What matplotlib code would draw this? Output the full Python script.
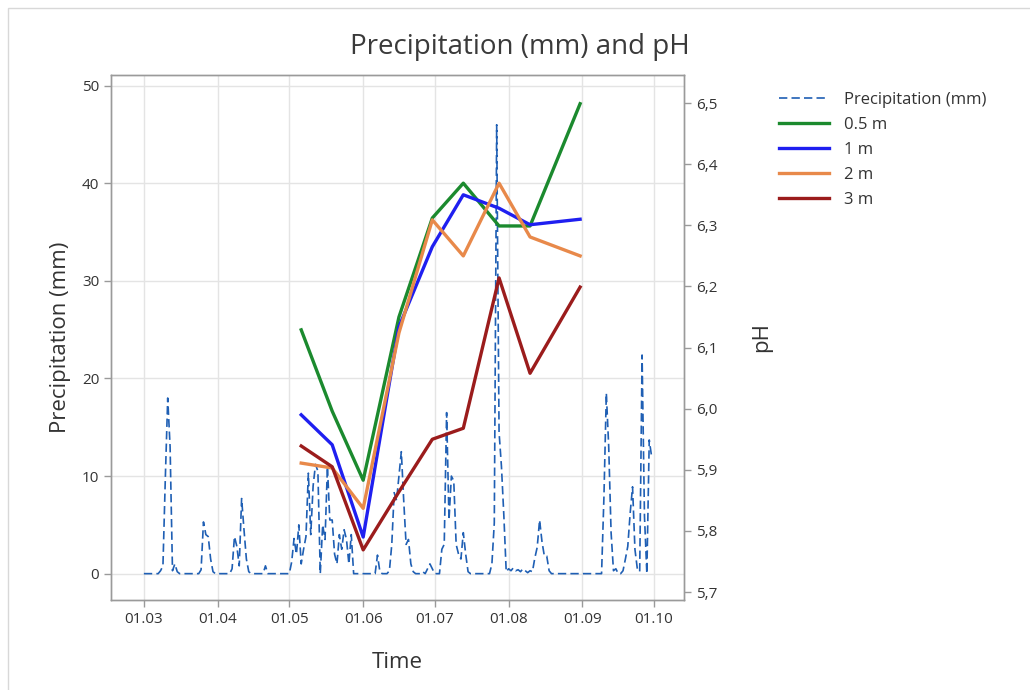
import matplotlib
matplotlib.use("Agg")
import matplotlib.pyplot as plt
import matplotlib.dates as mdates
from matplotlib.ticker import FuncFormatter, MultipleLocator
from matplotlib.patches import Rectangle
import numpy as np
import pandas as pd

plt.rcParams['font.family'] = ['Open Sans', 'DejaVu Sans']

# ---- Data ----
precip_start = "2021-03-01"
precip_mar = [0, 0, 0, 0, 0, 0, 0, 0.3, 0.8, 9.8, 18.0, 13.0, 0.3, 1.0, 0.2,
              0, 0, 0, 0, 0, 0, 0, 0, 0, 0.4, 5.3, 4.0, 3.8, 1.5, 0.2, 0]
precip_apr = [0, 0, 0, 0, 0, 0, 0.5, 3.8, 2.8, 0.8, 7.7, 4.5, 1.5, 0.2,
              0, 0, 0, 0, 0, 0, 0.8, 0, 0, 0, 0, 0, 0, 0, 0, 0]
precip_may = [0.0, 1.2, 3.6, 2.0, 5.0, 1.0, 2.5, 3.8, 10.3, 4.0, 9.0, 11.2, 10.5,
              0.0, 5.0, 3.5, 11.0, 5.5, 5.5, 2.0, 1.0, 4.0, 2.5, 4.5, 3.5, 1.0,
              4.0, 0, 0, 0, 0]
precip_jun = [0, 0, 0, 0, 0, 0, 1.9, 0.2, 0, 0, 0, 0.3, 3.0, 8.3, 7.5, 10.0,
              12.5, 7.5, 3.0, 3.5, 1.0, 0.2, 0, 0, 0, 0.2, 0, 0.5, 1.0, 0.5]
precip_jul = [0, 0, 0, 2.5, 3.0, 16.5, 5.5, 10.0, 9.5, 3.0, 2.0, 1.5, 4.2, 2.0,
              0.2, 0, 0, 0, 0, 0, 0, 0, 0, 0, 1.0, 5.2, 46.0, 14.5, 11.0, 6.0, 0.2]
precip_aug = [0.5, 0.3, 0.6, 0.3, 0.4, 0.2, 0.5, 0.3, 0.1, 0.3, 0.2, 1.6, 2.7,
              5.5, 3.3, 1.8, 1.8, 0.3, 0, 0, 0, 0, 0, 0, 0, 0, 0, 0, 0, 0, 0]
precip_sep = [0, 0, 0, 0, 0, 0, 0, 0, 0, 7.9, 18.5, 13.0, 4.2, 0.3, 0.5, 0, 0,
              0.3, 1.5, 2.8, 6.2, 8.9, 2.5, 0.5, 0.2, 22.4, 5.9, 0.0, 13.7, 12.0]

ph_dates = ["2021-05-06", "2021-05-19", "2021-06-01", "2021-06-16", "2021-06-30",
            "2021-07-13", "2021-07-28", "2021-08-10", "2021-08-31"]
ph_05m = [6.129, 5.996, 5.883, 6.150, 6.312, 6.369, 6.299, 6.299, 6.499]
ph_1m = [5.990, 5.941, 5.790, 6.134, 6.265, 6.350, 6.328, 6.301, 6.310]
ph_2m = [5.911, 5.903, 5.837, 6.124, 6.309, 6.250, 6.369, 6.281, 6.250]
ph_3m = [5.939, 5.905, 5.769, 5.864, 5.950, 5.968, 6.214, 6.058, 6.199]

series_labels = ["0.5 m", "1 m", "2 m", "3 m"]
series_colors = ["#1b8a2e", "#1f1ff0", "#e8894a", "#9b1c1c"]

precip = (precip_mar + precip_apr + precip_may + precip_jun +
          precip_jul + precip_aug + precip_sep)
precip_dates = pd.date_range(precip_start, periods=len(precip), freq="D")
ph_x = pd.to_datetime(ph_dates)

# ---- Figure ----
fig = plt.figure(figsize=(10.3, 6.9), dpi=100)
fig.patches.append(Rectangle((8/1030, -0.01), 1.0, 1 - 8/690 + 0.01,
                             transform=fig.transFigure, fill=False,
                             edgecolor="#d8d8d8", linewidth=1.0))
ax = fig.add_axes([111/1030, 1 - 600/690, (684 - 111)/1030, (600 - 75)/690])
ax2 = ax.twinx()

grid_c = "#e4e4e4"
spine_c = "#9a9a9a"
text_c = "#333333"

l0, = ax.plot(precip_dates, precip, color="#1f5fb4", lw=1.2,
              linestyle=(0, (5, 2.5)), label="Precipitation (mm)")
handles = [l0]
for vals, lab, col in zip([ph_05m, ph_1m, ph_2m, ph_3m], series_labels, series_colors):
    h, = ax2.plot(ph_x, vals, color=col, lw=2.4, label=lab)
    handles.append(h)

ax.set_xlim(pd.Timestamp("2021-02-15 05:00"), pd.Timestamp("2021-10-13 14:00"))
ax.set_ylim(-2.7, 51.1)
ax2.set_ylim(5.687, 6.546)

ax.xaxis.set_major_locator(mdates.MonthLocator(bymonthday=1))
ax.xaxis.set_major_formatter(mdates.DateFormatter("%d.%m"))
ax.yaxis.set_major_locator(MultipleLocator(10))
ax2.yaxis.set_major_locator(MultipleLocator(0.1))
ax2.yaxis.set_major_formatter(FuncFormatter(lambda v, p: f"{v:.1f}".replace(".", ",")))

ax.grid(True, color=grid_c, lw=1.0)
ax.set_axisbelow(True)

for a in (ax, ax2):
    for s in a.spines.values():
        s.set_color(spine_c)
        s.set_linewidth(1.0)
    a.tick_params(colors=spine_c, labelcolor=text_c, labelsize=11, length=5, width=1)

ax.set_xlabel("Time", fontsize=16, color=text_c, labelpad=18)
ax.set_ylabel("Precipitation (mm)", fontsize=16, color=text_c, labelpad=8)
ax2.set_ylabel("pH", fontsize=16, color=text_c, labelpad=24)

fig.text(0.505, 0.932, "Precipitation (mm) and pH", ha="center", va="center",
         fontsize=20, color="#3a3a3a")

fig.legend(handles=handles, labels=[h.get_label() for h in handles],
           loc="upper left", bbox_to_anchor=(0.742, 0.889), frameon=False,
           fontsize=12, handlelength=3.0, handletextpad=0.9,
           labelspacing=0.55, labelcolor=text_c)

fig.savefig("out.png", dpi=100)
